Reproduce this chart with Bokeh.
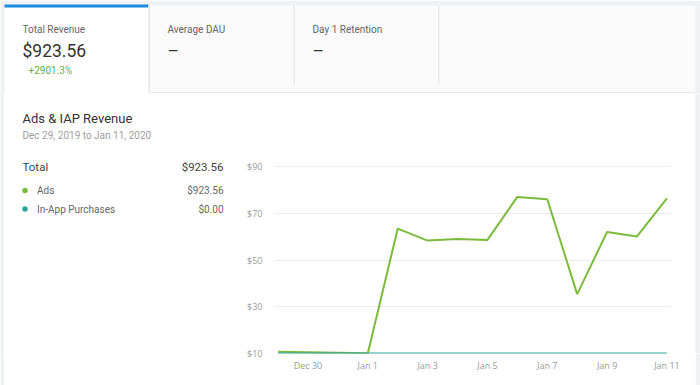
from bokeh.plotting import figure
from bokeh.models import Range1d, FixedTicker
from bokeh.layouts import column, row
from bokeh.core.properties import value
from bokeh.embed import file_html
from bokeh.resources import INLINE
import pandas as pd

# ---------------- data ----------------
dates = ["2019-12-29", "2019-12-30", "2019-12-31", "2020-01-01", "2020-01-02",
         "2020-01-03", "2020-01-04", "2020-01-05", "2020-01-06", "2020-01-07",
         "2020-01-08", "2020-01-09", "2020-01-10", "2020-01-11"]
ads = [10.7, 10.5, 10.3, 10.1, 63.4, 58.3, 59.0, 58.6, 77.0, 76.0, 35.4, 62.0, 60.1, 76.4]
iap = [10.0, 10.0, 10.0, 10.0, 10.0, 10.0, 10.0, 10.0, 10.0, 10.0, 10.0, 10.0, 10.0, 10.0]
x_tick_dates = ["2019-12-30", "2020-01-01", "2020-01-03", "2020-01-05",
                "2020-01-07", "2020-01-09", "2020-01-11"]
x_tick_labels = ["Dec 30", "Jan 1", "Jan 3", "Jan 5", "Jan 7", "Jan 9", "Jan 11"]
y_ticks = [10, 30, 50, 70, 90]
y_tick_labels = ["$10", "$30", "$50", "$70", "$90"]

kpi_titles = ["Total Revenue", "Average DAU", "Day 1 Retention"]
kpi_values = ["$923.56", "\u2013", "\u2013"]
kpi_change = "+2901.3%"
panel_title = "Ads & IAP Revenue"
panel_subtitle = "Dec 29, 2019 to Jan 11, 2020"
total_label, total_value = "Total", "$923.56"
series_names = ["Ads", "In-App Purchases"]
series_totals = ["$923.56", "$0.00"]
series_colors = ["#7bbb3c", "#2fa59b"]

# ---------------- layout sizes (page pixels) ----------------
W, H = 700, 385
TOP_H = 93
EDGE_L, EDGE_R = 4, 695
LEFT_W = 236
FL, FR, FT, FB = 274, 670, 166, 353   # chart frame: x left/right, y of $90 / $10
PAGE_BG = "#f0f1f3"


def canvas(x0, x1, y0, y1, bottom_border=0, fill="white"):
    f = figure(width=x1 - x0, height=y1 - y0 + bottom_border, output_backend="svg",
               toolbar_location=None, x_range=Range1d(x0, x1),
               y_range=Range1d(y1, y0), min_border=0,
               min_border_bottom=bottom_border,
               x_axis_location=None, y_axis_location=None)
    f.outline_line_color = None
    f.grid.grid_line_color = None
    f.background_fill_color = fill
    f.border_fill_color = fill
    return f


def rect(f, xa, ya, xb, yb, color):
    f.quad(left=[xa], right=[xb], top=[ya], bottom=[yb],
           fill_color=color, line_color=None)


def txt(f, X, Y, text, size, color, align="left", weight="normal"):
    f.text(x=[X], y=[Y], text=[text], text_font=value("Roboto"),
           text_font_size=value(size), text_color=color, text_align=align,
           text_baseline="middle", text_font_style=weight)


# ---- top KPI cards ----
top = canvas(0, W, 0, TOP_H)
rect(top, 0, 0, W, TOP_H, PAGE_BG)
rect(top, EDGE_L, 7, 148, TOP_H, "white")
rect(top, EDGE_L, 4, 148, 7, "#1a8ee1")
rect(top, 148, 5, EDGE_R, 92, "#fafafa")
rect(top, 148, 5, 149.5, 93, "#e6e6e6")
rect(top, 148, 92, EDGE_R, 93, "#e2e2e2")
rect(top, 293, 5, 294.5, 84, "#ebebeb")
rect(top, 437.5, 5, 439, 84, "#ebebeb")
kx = [22, 167, 312]
for X, t, v in zip(kx, kpi_titles, kpi_values):
    txt(top, X, 29, t, "10px", "#666666")
    txt(top, X, 50.5, v, "17.5px", "#333333")
txt(top, 28, 69.5, kpi_change, "10px", "#6aae3a")

# ---- page edge strips ----
strip_l = canvas(0, EDGE_L, TOP_H, FB, bottom_border=H - FB, fill=PAGE_BG)
strip_r = canvas(EDGE_R, W, TOP_H, FB, bottom_border=H - FB, fill=PAGE_BG)
rect(strip_r, EDGE_R, TOP_H, EDGE_R + 1, FB, "#e8e9eb")

# ---- left legend panel ----
left = canvas(EDGE_L, LEFT_W, TOP_H, FB, bottom_border=H - FB)
txt(left, 22, 118, panel_title, "13px", "#333333")
txt(left, 22, 135, panel_subtitle, "10px", "#9e9e9e")
txt(left, 22, 166, total_label, "11.5px", "#444444")
txt(left, 223, 166, total_value, "11.5px", "#444444", align="right")
rows_y = [190, 208.5]
left.scatter(x=[24.5] * len(rows_y), y=rows_y, size=5.5, color=series_colors,
             line_color=None)
for Y, name, tot in zip(rows_y, series_names, series_totals):
    txt(left, 36.5, Y, name, "10px", "#666666")
    txt(left, 223, Y, tot, "10px", "#666666", align="right")

# ---- chart ----
xd = pd.to_datetime(dates)
day_ms = 86400000.0
x0 = xd[0].value / 1e6
x1 = xd[-1].value / 1e6
pad = 0.12 * day_ms
ppu = (FB - FT) / (y_ticks[-1] - y_ticks[0])      # pixels per dollar
y_top = y_ticks[-1] + (FT - TOP_H) / ppu          # frame top extends to the row top

p = figure(width=EDGE_R - LEFT_W, height=H - TOP_H, output_backend="svg",
           toolbar_location=None, x_axis_type="datetime",
           x_range=Range1d(x0 - pad, x1 + pad), y_range=Range1d(y_ticks[0], y_top),
           min_border_left=FL - LEFT_W, min_border_right=EDGE_R - FR,
           min_border_top=0, min_border_bottom=H - FB)
p.outline_line_color = None
p.background_fill_color = "white"
p.border_fill_color = "white"
p.xgrid.grid_line_color = None
p.ygrid.grid_line_color = "#ececec"
p.ygrid.ticker = FixedTicker(ticks=y_ticks)

tick_ms = [pd.Timestamp(d).value / 1e6 for d in x_tick_dates]
p.xaxis.ticker = FixedTicker(ticks=tick_ms)
p.xaxis.major_label_overrides = {t: l for t, l in zip(tick_ms, x_tick_labels)}
p.yaxis.ticker = FixedTicker(ticks=y_ticks)
p.yaxis.major_label_overrides = {t: l for t, l in zip(y_ticks, y_tick_labels)}
for ax in (p.xaxis[0], p.yaxis[0]):
    ax.axis_line_color = None
    ax.major_tick_line_color = None
    ax.minor_tick_line_color = None
    ax.major_tick_out = 0
    ax.major_tick_in = 0
    ax.minor_tick_out = 0
    ax.minor_tick_in = 0
    ax.major_label_text_font = "Open Sans"
    ax.major_label_text_font_size = "9px"
    ax.major_label_text_color = "#9a9a9a"
p.xaxis.major_label_standoff = 5
p.yaxis.major_label_standoff = 12

p.line(xd, ads, line_color=series_colors[0], line_width=2)
p.line(xd, iap, line_color=series_colors[1], line_width=2)

layout = column(top, row(strip_l, left, p, strip_r, spacing=0), spacing=0)
open("out.html", "w").write(file_html(layout, INLINE))
